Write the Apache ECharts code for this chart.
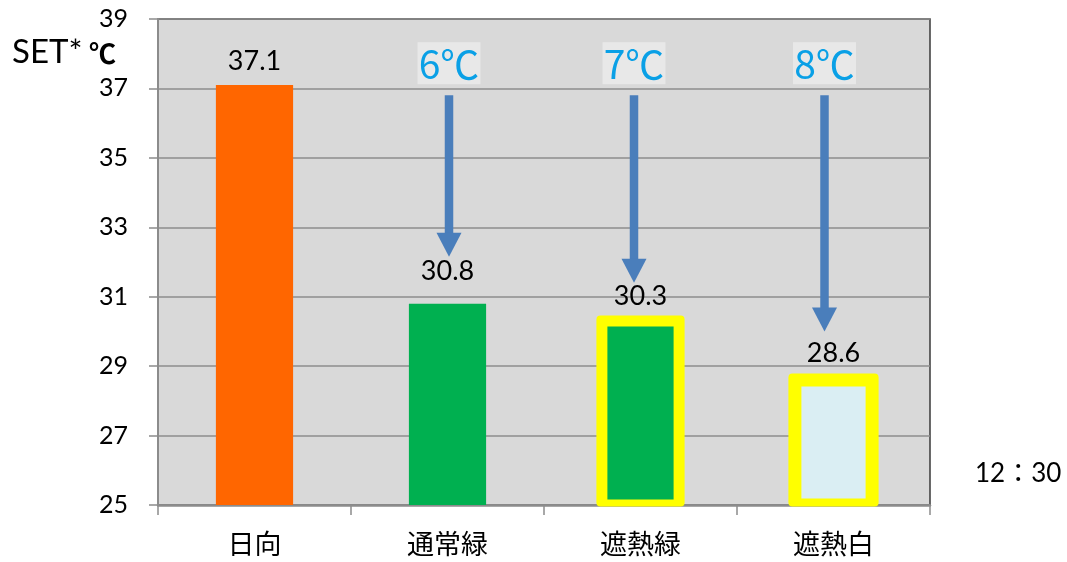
<!DOCTYPE html>
<html>
<head>
<meta charset="utf-8">
<script src="https://cdn.jsdelivr.net/npm/echarts@6/dist/echarts.min.js"></script>
<style>
  html, body { margin: 0; padding: 0; background: #ffffff; }
  #chart { width: 1067px; height: 562px; }
</style>
</head>
<body>
<div id="chart"></div>
<script>
// SET* comparison at 12:30 for four surface conditions
const categories = ['日向', '通常緑', '遮熱緑', '遮熱白'];
const setValues = [37.1, 30.8, 30.3, 28.6];
const yTicks = { min: 25, max: 39, step: 2 };

// temperature drop annotations: [category index, arrow start, arrow tip, label]
const dropCategory = [1, 2, 3];
const dropStart = [36.8, 36.8, 36.8];
const dropTip = [32.15, 31.4, 30.0];
const dropLabels = ['6℃', '7℃', '8℃'];

// styling
const fillColors = ['#FF6600', '#00B050', '#00B050', '#DAEEF3'];
const borderWidths = [0, 0, 11, 13];
const labelGap = [24, 32, 25, 27];
const arrowShift = [1.5, -6.5, -9];
const numFont = 'Lato, "Noto Sans CJK JP", sans-serif';
const jpFont = '"Noto Sans CJK JP", sans-serif';

const chart = echarts.init(document.getElementById('chart'));

function renderBar(params, api) {
  const i = api.value(0);
  const v = api.value(1);
  const top = api.coord([i, v]);
  const base = api.coord([i, yTicks.min]);
  const w = api.size([1, 0])[0] * 0.4;
  const cx = top[0];
  const bw = borderWidths[i];
  const children = [];
  if (bw > 0) {
    children.push({
      type: 'rect',
      shape: { x: cx - w / 2 - bw / 2, y: top[1] - bw / 2, width: w + bw, height: base[1] - top[1] + bw / 2 + 1.5, r: 4 },
      style: { fill: '#FFFF00' }
    });
    children.push({
      type: 'rect',
      shape: { x: cx - w / 2 + bw / 2, y: top[1] + bw / 2, width: w - bw, height: base[1] - top[1] - bw / 2 - bw * 0.5 },
      style: { fill: fillColors[i] }
    });
  } else {
    children.push({
      type: 'rect',
      shape: { x: cx - w / 2, y: top[1], width: w, height: base[1] - top[1] },
      style: { fill: fillColors[i] }
    });
  }
  children.push({
    type: 'text',
    style: {
      text: v.toFixed(1), x: cx, y: top[1] - labelGap[i],
      fill: '#000', font: '27px ' + numFont, align: 'center', verticalAlign: 'middle'
    }
  });
  return { type: 'group', children: children };
}

function renderDrop(params, api) {
  const k = params.dataIndex;
  const i = api.value(0);
  const start = api.coord([i, api.value(1)]);
  const tip = api.coord([i, api.value(2)]);
  const x = start[0] + arrowShift[k];
  const headH = 24, headW = 25, shaftW = 8.5;
  const color = '#4A7EBB';
  return {
    type: 'group',
    children: [
      {
        type: 'rect',
        shape: { x: x - shaftW / 2, y: start[1], width: shaftW, height: tip[1] - headH - start[1] + 1 },
        style: { fill: color }
      },
      {
        type: 'polygon',
        shape: { points: [[x - headW / 2, tip[1] - headH], [x + headW / 2, tip[1] - headH], [x, tip[1]]] },
        style: { fill: color }
      },
      {
        type: 'rect',
        shape: { x: x - 31.5, y: start[1] - 53, width: 63, height: 42 },
        style: { fill: '#E8E8E8' }
      },
      {
        type: 'text',
        style: {
          text: dropLabels[k], x: x, y: start[1] - 31,
          fill: '#0AA0E6', font: '39px ' + jpFont, align: 'center', verticalAlign: 'middle'
        }
      }
    ]
  };
}

chart.setOption({
  backgroundColor: '#ffffff',
  animation: false,
  grid: {
    left: 158, right: 137, top: 19, bottom: 57,
    show: true, backgroundColor: '#D9D9D9', borderColor: '#3A3A3A', borderWidth: 1.5
  },
  xAxis: {
    type: 'category',
    data: categories,
    axisLine: { lineStyle: { color: '#8C8C8C', width: 2.5 } },
    axisTick: { show: true, length: 10, lineStyle: { color: '#8C8C8C', width: 1.5 } },
    axisLabel: { color: '#000', fontSize: 27, fontFamily: jpFont, margin: 25 }
  },
  yAxis: {
    type: 'value',
    min: yTicks.min, max: yTicks.max, interval: yTicks.step,
    axisLine: { show: true, lineStyle: { color: '#8C8C8C', width: 2 } },
    axisTick: { show: true, length: 9, lineStyle: { color: '#8C8C8C', width: 1.5 } },
    axisLabel: { color: '#000', fontSize: 25, fontFamily: numFont, margin: 30 },
    splitLine: { show: true, lineStyle: { color: '#8C8C8C', width: 1.5 } }
  },
  series: [
    {
      type: 'custom',
      renderItem: renderBar,
      encode: { x: 0, y: 1 },
      data: setValues.map((v, i) => [i, v]),
      z: 3
    },
    {
      type: 'custom',
      renderItem: renderDrop,
      encode: { x: 0, y: [1, 2] },
      data: dropCategory.map((c, k) => [c, dropStart[k], dropTip[k]]),
      z: 4
    }
  ],
  graphic: [
    {
      type: 'text', left: 12, top: 36,
      style: { text: 'SET*', fill: '#000', font: '33px ' + numFont }
    },
    {
      type: 'text', left: 89, top: 40,
      style: { text: '℃', fill: '#000', font: 'bold 27px ' + jpFont }
    },
    {
      type: 'text', left: 975, top: 461,
      style: { text: '12：30', fill: '#000', font: '26px ' + numFont }
    }
  ]
});
</script>
</body>
</html>
